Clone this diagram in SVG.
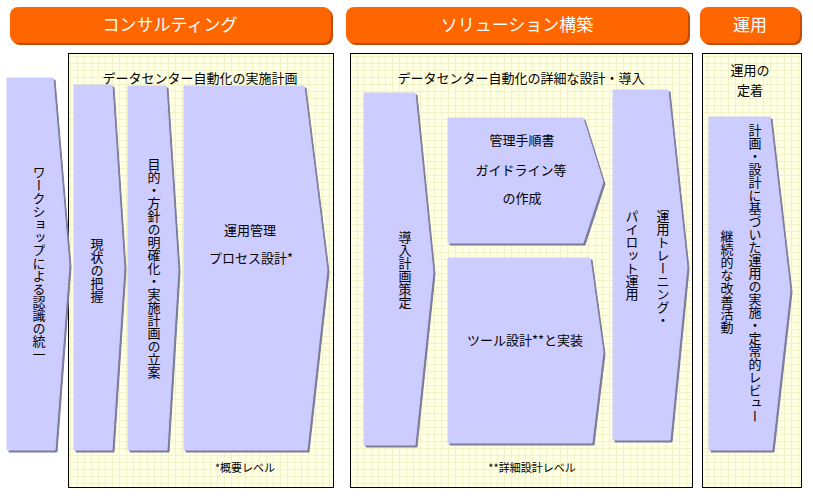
<svg xmlns="http://www.w3.org/2000/svg" width="813" height="501" viewBox="0 0 813 501">
<defs>
<pattern id="grid" width="7" height="7" patternUnits="userSpaceOnUse">
<rect width="7" height="7" fill="#FFFFE3"/>
<path d="M0,0.5 H7 M0.5,0 V7" stroke="#F2F2C8" stroke-width="1"/>
</pattern>
</defs>
<style>
.hdr{fill:#FF6600}
.hdrs{fill:#C44E00}
.hdrt{font-family:"Noto Sans CJK JP","Noto Sans",sans-serif;font-size:17px;fill:#FFFFFF;text-anchor:middle}
.panel{fill:url(#grid);stroke:#000;stroke-width:1}
.chev{fill:#CCCCFF;stroke:#CCCCFF;stroke-width:1;stroke-linejoin:round}
.chevs{fill:#7C7C9C;stroke:#7C7C9C;stroke-width:1;stroke-linejoin:round}
.t{font-family:"Noto Sans CJK JP","Noto Sans",sans-serif;font-size:13px;fill:#000;text-anchor:middle}
.v{writing-mode:vertical-rl;text-orientation:mixed}
</style>
<rect width="813" height="501" fill="#FFFFFF"/>
<g id="header-consulting">
<rect class="hdrs" x="12" y="9" width="321" height="36" rx="8"/>
<rect class="hdr" x="10" y="7" width="321" height="36" rx="8"/>
<text class="hdrt" x="170" y="31">コンサルティング</text>
</g>
<g id="header-solution">
<rect class="hdrs" x="348" y="9" width="342" height="36" rx="8"/>
<rect class="hdr" x="346" y="7" width="342" height="36" rx="8"/>
<text class="hdrt" x="517" y="31">ソリューション構築</text>
</g>
<g id="header-operation">
<rect class="hdrs" x="702" y="9" width="100" height="36" rx="8"/>
<rect class="hdr" x="700" y="7" width="100" height="36" rx="8"/>
<text class="hdrt" x="750" y="31">運用</text>
</g>
<g id="panel-consulting">
<rect class="panel" x="68.5" y="53.5" width="265" height="434"/>
<text class="t" x="200" y="83">データセンター自動化の実施計画</text>
<text class="t" x="245" y="472" style="font-size:11px">*概要レベル</text>
</g>
<g id="panel-solution">
<rect class="panel" x="350.5" y="53.5" width="342" height="434"/>
<text class="t" x="521" y="83">データセンター自動化の詳細な設計・導入</text>
<text class="t" x="532" y="472" style="font-size:11px">**詳細設計レベル</text>
</g>
<g id="panel-operation">
<rect class="panel" x="702.5" y="53.5" width="99" height="434"/>
<text class="t" x="750" y="75">運用の</text>
<text class="t" x="750" y="95">定着</text>
</g>
<g id="workshop">
<path class="chevs" d="M9,80 H55 L71,267 L57,452 H9 Z"/>
<path class="chev" d="M7,78 H53 L69,265 L55,450 H7 Z"/>
<text class="t v" x="39" y="263">ワークショップによる認識の統一</text>
</g>
<g id="current">
<path class="chevs" d="M76,87 H114 L126,270 L114,452 H76 Z"/>
<path class="chev" d="M74,85 H112 L124,268 L112,450 H74 Z"/>
<text class="t v" x="97" y="270">現状の把握</text>
</g>
<g id="purpose">
<path class="chevs" d="M130,88 H168 L180,272 L169,452 H130 Z"/>
<path class="chev" d="M128,86 H166 L178,270 L167,450 H128 Z"/>
<text class="t v" x="154" y="268">目的・方針の明確化・実施計画の立案</text>
</g>
<g id="process-design">
<path class="chevs" d="M186,88 H306 L329,272 L309,452 H186 Z"/>
<path class="chev" d="M184,86 H304 L327,270 L307,450 H184 Z"/>
<text class="t" x="250" y="235">運用管理</text>
<text class="t" x="251" y="263">プロセス設計*</text>
</g>
<g id="intro-plan">
<path class="chevs" d="M366,95 H417 L435,274 L417,447 H366 Z"/>
<path class="chev" d="M364,93 H415 L433,272 L415,445 H364 Z"/>
<text class="t v" x="405" y="270">導入計画策定</text>
</g>
<g id="procedures">
<path class="chevs" d="M450,120 H585 L605,184 L585,245 H450 Z"/>
<path class="chev" d="M448,118 H583 L603,182 L583,243 H448 Z"/>
<text class="t" x="522" y="145">管理手順書</text>
<text class="t" x="521" y="175">ガイドライン等</text>
<text class="t" x="522" y="203">の作成</text>
</g>
<g id="tool-design">
<path class="chevs" d="M450,260 H592 L605,354 L594,445 H450 Z"/>
<path class="chev" d="M448,258 H590 L603,352 L592,443 H448 Z"/>
<text class="t" x="525" y="345">ツール設計**と実装</text>
</g>
<g id="training">
<path class="chevs" d="M615,92 H670 L689,269 L672,442 H615 Z"/>
<path class="chev" d="M613,90 H668 L687,267 L670,440 H613 Z"/>
<text class="t v" x="663" y="210" style="text-anchor:start">運用トレーニング・</text>
<text class="t v" x="632" y="210" style="text-anchor:start">パイロット運用</text>
</g>
<g id="continuous">
<path class="chevs" d="M711,119 H772 L792,292 L774,452 H711 Z"/>
<path class="chev" d="M709,117 H770 L790,290 L772,450 H709 Z"/>
<text class="t v" x="755" y="273">計画・設計に基づいた運用の実施・定常的レビュー</text>
<text class="t v" x="727" y="282">継続的な改善活動</text>
</g>
<g id="connectors"></g>
</svg>
